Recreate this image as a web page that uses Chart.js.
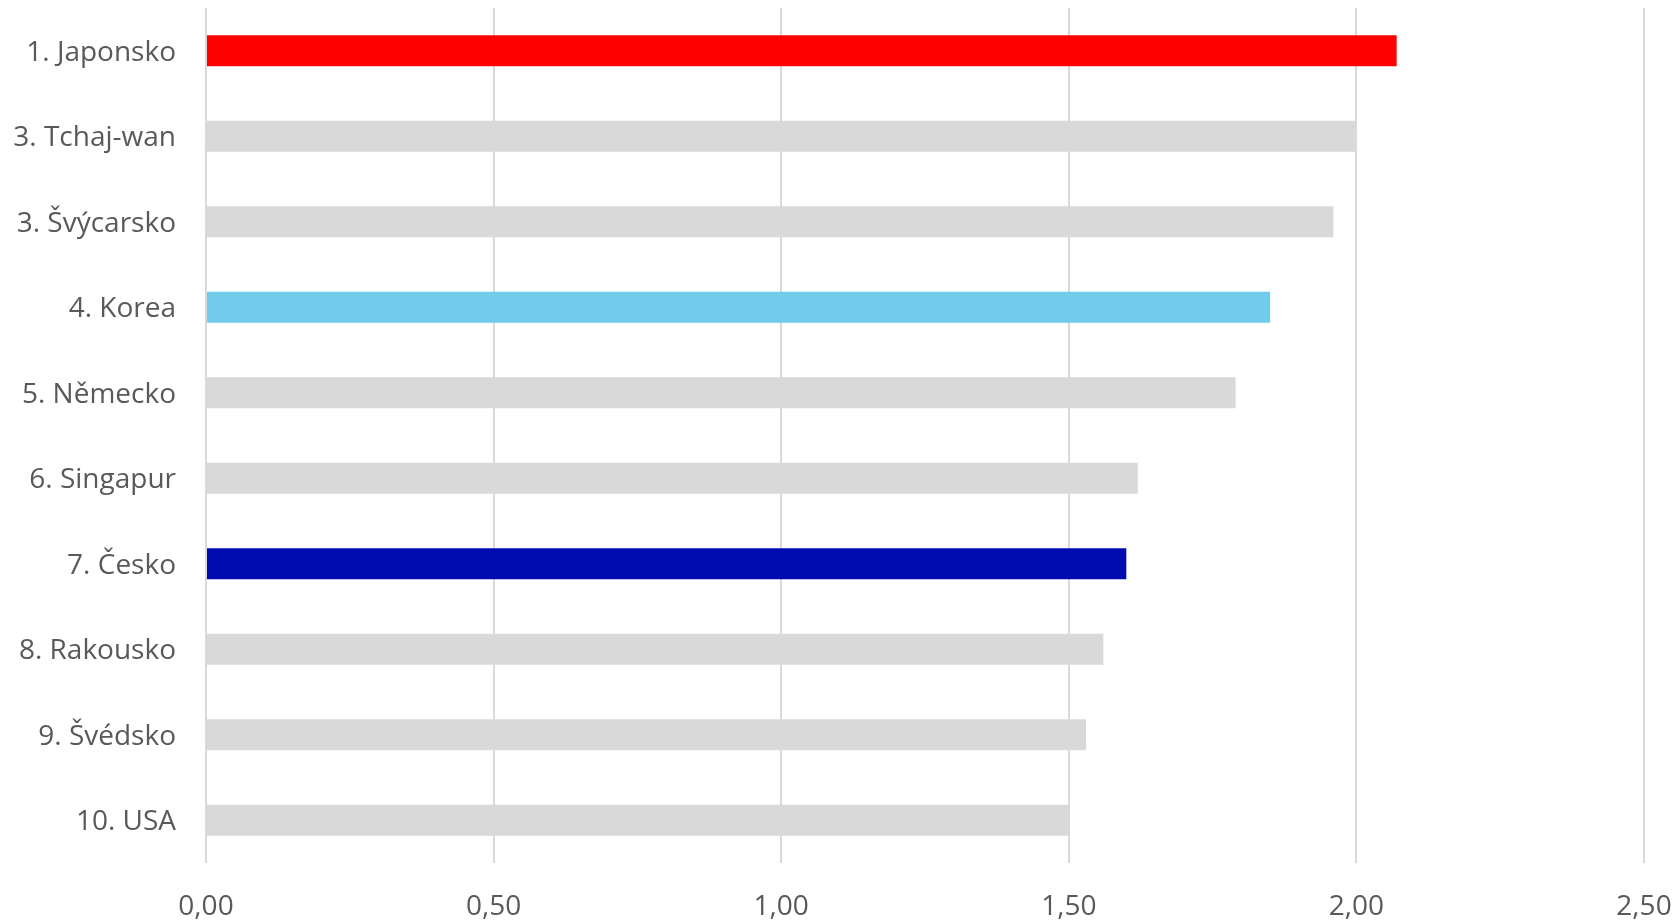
<!DOCTYPE html>
<html>
<head>
<meta charset="utf-8">
<script src="https://cdn.jsdelivr.net/npm/chart.js@4/dist/chart.umd.min.js"></script>
<style>
  html, body { margin: 0; padding: 0; background: #fff; }
  #wrap { width: 1680px; height: 921px; }
</style>
</head>
<body>
<div id="wrap"><canvas id="chart"></canvas></div>
<script>
// data
const countries = ['1. Japonsko', '3. Tchaj-wan', '3. Švýcarsko', '4. Korea', '5. Německo',
                   '6. Singapur', '7. Česko', '8. Rakousko', '9. Švédsko', '10. USA'];
const values = [2.07, 2.00, 1.96, 1.85, 1.79, 1.62, 1.60, 1.56, 1.53, 1.50];
const barColors = ['#ff0000', '#d9d9d9', '#d9d9d9', '#71cbeb', '#d9d9d9',
                   '#d9d9d9', '#000bb0', '#d9d9d9', '#d9d9d9', '#d9d9d9'];
const xTicks = [0, 0.5, 1, 1.5, 2, 2.5];

const labelFont = { family: 'Open Sans', size: 28 };

new Chart(document.getElementById('chart'), {
    type: 'bar',
    data: {
        labels: countries,
        datasets: [{
            data: values,
            backgroundColor: barColors,
            borderWidth: 0,
            categoryPercentage: 1,
            barPercentage: 0.36
        }]
    },
    options: {
        indexAxis: 'y',
        responsive: true,
        maintainAspectRatio: false,
        animation: false,
        layout: { padding: { top: 8, right: 36, left: 0, bottom: 0 } },
        plugins: {
            legend: { display: false },
            tooltip: { enabled: false }
        },
        scales: {
            x: {
                min: 0,
                max: 2.5,
                afterBuildTicks: (scale) => { scale.ticks = xTicks.map(v => ({ value: v })); },
                afterFit: (scale) => {
                    scale.height = 58;
                    scale.paddingLeft = 0;
                    scale.paddingRight = 0;
                },
                border: { display: false },
                grid: { color: '#d9d9d9', lineWidth: 2, drawTicks: false },
                ticks: {
                    padding: 27,
                    maxRotation: 0,
                    color: '#595959',
                    font: labelFont,
                    callback: (v) => v.toFixed(2).replace('.', ',')
                }
            },
            y: {
                afterFit: (scale) => {
                    scale.width = 206;
                    scale.paddingTop = 0;
                    scale.paddingBottom = 0;
                },
                border: { display: false },
                grid: { display: false, drawTicks: false },
                ticks: {
                    padding: 30,
                    labelOffset: 2,
                    color: '#595959',
                    font: labelFont
                }
            }
        }
    }
});
</script>
</body>
</html>
